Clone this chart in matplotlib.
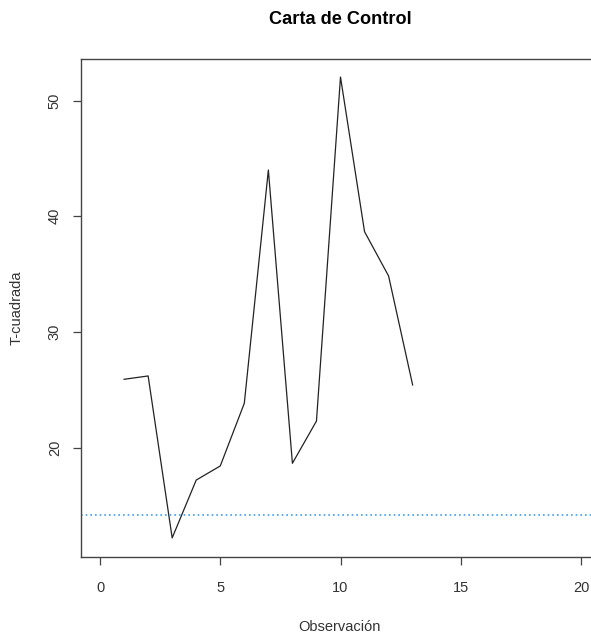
import matplotlib
matplotlib.use("Agg")
import matplotlib.pyplot as plt

plt.rcParams["font.family"] = ["Liberation Sans", "DejaVu Sans"]

# Data
obs = [1, 2, 3, 4, 5, 6, 7, 8, 9, 10, 11, 12, 13]
t2 = [25.91, 26.2, 12.2, 17.2, 18.42, 23.84, 44.0, 18.65, 22.3, 52.04, 38.67, 34.84, 25.42]
limite = 14.18
xticks = [0, 5, 10, 15, 20]
yticks = [20, 30, 40, 50]

W, H = 591, 637
fig = plt.figure(figsize=(W / 100, H / 100), dpi=100)
left, right, bottom, top = 80.8, 600.2, 557, 58.5
ax = fig.add_axes([left / W, 1 - bottom / H, (right - left) / W, (bottom - top) / H])

ax.plot(obs, t2, color="#222222", lw=0.9)
ax.axhline(limite, color="#3d9ff0", lw=1.2, linestyle=(0, (1, 1.8)))

ax.set_xlim(-0.8, 20.8)
ax.set_ylim(10.55, 53.64)
ax.set_xticks(xticks)
ax.set_yticks(yticks)

for s in ax.spines.values():
    s.set_color("#444444")
    s.set_linewidth(1.0)
ax.spines["right"].set_visible(False)

ax.tick_params(axis="both", direction="out", length=6.1, width=0.9, color="#444444",
               labelsize=10.5, labelcolor="#333333")
ax.tick_params(axis="x", pad=11.5)
ax.tick_params(axis="y", pad=7.6)
for lab in ax.get_yticklabels():
    lab.set_rotation(90)
    lab.set_va("center")

fig.text(340 / W, 1 - 20 / H, "Carta de Control", ha="center", va="center",
         fontsize=13.1, fontweight="bold", color="black")
fig.text(339 / W, 1 - 627 / H, "Observación", ha="center", va="center",
         fontsize=10.5, color="#333333")
fig.text(17 / W, 1 - (top + bottom) / 2 / H, "T-cuadrada", ha="center", va="center",
         rotation=90, fontsize=10.5, color="#333333")

plt.savefig("out.png", dpi=100)
plt.close()
